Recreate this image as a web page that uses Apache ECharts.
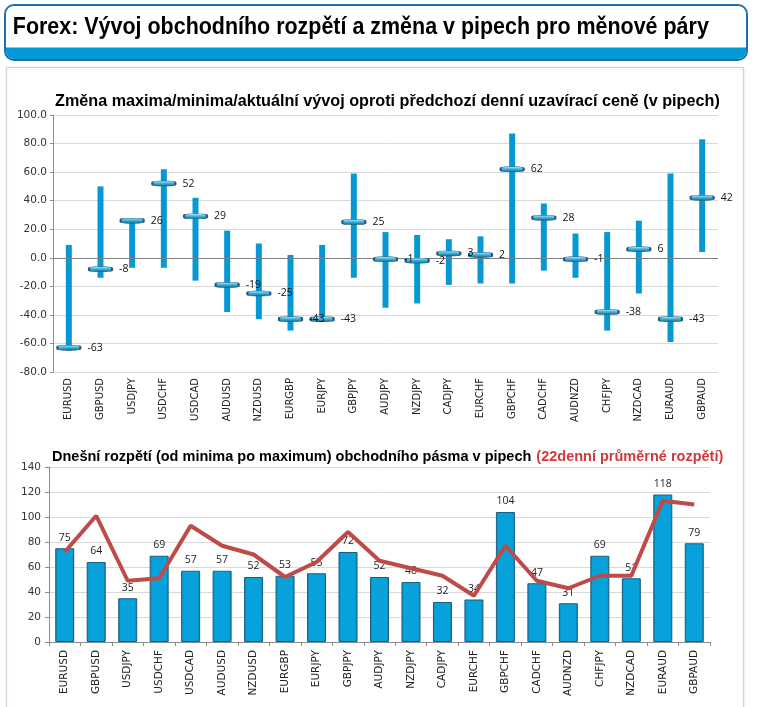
<!DOCTYPE html>
<html>
<head>
<meta charset="utf-8">
<script src="https://cdn.jsdelivr.net/npm/echarts@6/dist/echarts.min.js"></script>
<style>
html,body{margin:0;padding:0;background:#fff;}
#c{width:757px;height:707px;}
</style>
</head>
<body>
<div id="c"></div>
<script>
// ---- data ----
const pairs = ['EURUSD','GBPUSD','USDJPY','USDCHF','USDCAD','AUDUSD','NZDUSD','EURGBP','EURJPY','GBPJPY','AUDJPY','NZDJPY','CADJPY','EURCHF','GBPCHF','CADCHF','AUDNZD','CHFJPY','NZDCAD','EURAUD','GBPAUD'];
const changeHigh = [9, 50, 27, 62, 42, 19, 10, 2, 9, 59, 18, 16, 13, 15, 87, 38, 17, 18, 26, 59, 83];
const changeLow = [-65, -14, -7, -7, -16, -38, -43, -51, -45, -14, -35, -32, -19, -18, -18, -9, -14, -51, -25, -59, 4];
const changeNow = [-63, -8, 26, 52, 29, -19, -25, -43, -43, 25, -1, -2, 3, 2, 62, 28, -1, -38, 6, -43, 42];
const topTicks = {min: -80, max: 100, step: 20};

const rangeToday = [75, 64, 35, 69, 57, 57, 52, 53, 55, 72, 52, 48, 32, 34, 104, 47, 31, 69, 51, 118, 79];
const range22Avg = [72, 101, 49, 51, 93, 77, 70, 52, 64, 88, 65, 59, 53, 37, 77, 49, 43, 53, 53, 113, 110];
const bottomTicks = {min: 0, max: 140, step: 20};

const headerTitle = 'Forex: Vývoj obchodního rozpětí a změna v pipech pro měnové páry';
const topTitle = 'Změna maxima/minima/aktuální vývoj oproti předchozí denní uzavírací ceně (v pipech)';
const bottomTitleA = 'Dnešní rozpětí (od minima po maximum) obchodního pásma v pipech';
const bottomTitleB = '(22denní průměrné rozpětí)';

// ---- chart ----
const chart = echarts.init(document.getElementById('c'), null, {renderer: 'canvas'});

// fit header title width
const mc = document.createElement('canvas').getContext('2d');
mc.font = 'bold 23px "Liberation Sans"';
const hw = mc.measureText(headerTitle).width;
const headerScale = 696 / hw;

const axisFont = '"DejaVu Sans"';
const gridColor = '#d9d9d9';
const axisColor = '#8c8c8c';

const option = {
  animation: false,
  backgroundColor: '#fff',
  graphic: [
    {type: 'rect', z: -10, shape: {x: 6.5, y: 67.5, width: 737, height: 660}, style: {fill: '#fff', stroke: '#d4d4d4', lineWidth: 1, shadowBlur: 3, shadowColor: 'rgba(0,0,0,0.12)'}},
    {type: 'rect', z: 10, shape: {x: 5, y: 5, width: 742, height: 55, r: 9}, style: {fill: '#fff', stroke: '#1e6fad', lineWidth: 2}},
    {type: 'rect', z: 11, shape: {x: 6, y: 47.5, width: 740, height: 11.5, r: [0, 0, 8, 8]}, style: {fill: '#0099d4'}},
    {type: 'text', z: 12, x: 12, y: 28, scaleX: headerScale, originX: 12, originY: 28,
      style: {text: headerTitle, fill: '#000', font: 'bold 23px "Liberation Sans"', verticalAlign: 'middle', align: 'left'}}
  ],
  title: [
    {text: topTitle, left: 55, top: 94, padding: 0,
      textStyle: {fontFamily: '"Liberation Sans"', fontWeight: 'bold', fontSize: 16.2, color: '#000'}},
    {text: '{a|' + bottomTitleA + '} {b|' + bottomTitleB + '}', left: 52, top: 448, padding: 0,
      textStyle: {rich: {
        a: {fontFamily: '"Liberation Sans"', fontWeight: 'bold', fontSize: 14.5, color: '#000'},
        b: {fontFamily: '"Liberation Sans"', fontWeight: 'bold', fontSize: 14.5, color: '#d2393b'}
      }}}
  ],
  grid: [
    {left: 53, top: 115, width: 665, height: 257},
    {left: 49, top: 467, width: 661, height: 175}
  ],
  xAxis: [
    {gridIndex: 0, type: 'category', data: pairs,
      axisLine: {show: false}, axisTick: {show: false},
      axisLabel: {rotate: 90, fontSize: 10, fontFamily: axisFont, color: '#222', margin: 6, interval: 0}},
    {gridIndex: 1, type: 'category', data: pairs,
      axisLine: {show: true, lineStyle: {color: axisColor}}, axisTick: {show: true, length: 4, lineStyle: {color: axisColor}},
      axisLabel: {rotate: 90, fontSize: 10.5, fontFamily: axisFont, color: '#222', margin: 8, interval: 0}}
  ],
  yAxis: [
    {gridIndex: 0, type: 'value', min: topTicks.min, max: topTicks.max, interval: topTicks.step,
      axisLine: {show: true, lineStyle: {color: axisColor}}, axisTick: {show: true, length: 3, lineStyle: {color: axisColor}},
      splitLine: {lineStyle: {color: gridColor}},
      axisLabel: {fontSize: 10.5, fontFamily: axisFont, color: '#333', margin: 6, formatter: v => v.toFixed(1)}},
    {gridIndex: 1, type: 'value', min: bottomTicks.min, max: bottomTicks.max, interval: bottomTicks.step,
      axisLine: {show: true, lineStyle: {color: axisColor}}, axisTick: {show: true, length: 4, lineStyle: {color: axisColor}},
      splitLine: {lineStyle: {color: gridColor}},
      axisLabel: {fontSize: 10.5, fontFamily: axisFont, color: '#333', margin: 8}}
  ],
  series: [
    {
      type: 'custom', xAxisIndex: 0, yAxisIndex: 0, z: 2,
      data: pairs.map((p, i) => [i, changeLow[i], changeHigh[i]]),
      renderItem: function (params, api) {
        const lo = api.coord([api.value(0), api.value(1)]);
        const hi = api.coord([api.value(0), api.value(2)]);
        const w = 6;
        return {type: 'rect', shape: {x: lo[0] - w / 2, y: hi[1], width: w, height: lo[1] - hi[1]},
          style: {fill: '#0798d4'}};
      },
      markLine: {silent: true, symbol: 'none', label: {show: false},
        lineStyle: {color: '#7f7f7f', width: 1, type: 'solid'}, data: [{yAxis: 0}]}
    },
    {
      type: 'scatter', xAxisIndex: 0, yAxisIndex: 0, z: 5,
      data: changeNow,
      symbol: 'roundRect', symbolSize: [23, 5],
      itemStyle: {
        color: new echarts.graphic.LinearGradient(0, 0, 0, 1, [
          {offset: 0, color: '#b5ecfb'}, {offset: 0.45, color: '#3fb6e2'}, {offset: 1, color: '#13668e'}]),
        borderColor: '#2b5870', borderWidth: 1, opacity: 1
      },
      label: {show: true, position: 'right', distance: 6, fontSize: 10.5, fontFamily: '"Open Sans"', color: '#111',
        formatter: p => String(p.value)}
    },
    {
      type: 'bar', xAxisIndex: 1, yAxisIndex: 1, z: 2,
      data: rangeToday, barWidth: 19,
      itemStyle: {
        color: new echarts.graphic.LinearGradient(0, 0, 1, 0, [
          {offset: 0, color: '#0a79a8'}, {offset: 0.12, color: '#07a2dc'}, {offset: 0.88, color: '#07a2dc'}, {offset: 1, color: '#0a79a8'}]),
        borderColor: '#1c5e7e', borderWidth: 1
      },
      label: {show: true, position: 'top', distance: 5, fontSize: 10.5, fontFamily: '"Open Sans"', color: '#222'}
    },
    {
      type: 'line', xAxisIndex: 1, yAxisIndex: 1, z: 4,
      data: range22Avg, symbol: 'none',
      lineStyle: {color: '#be4b48', width: 4}
    }
  ]
};
chart.setOption(option);
</script>
</body>
</html>
